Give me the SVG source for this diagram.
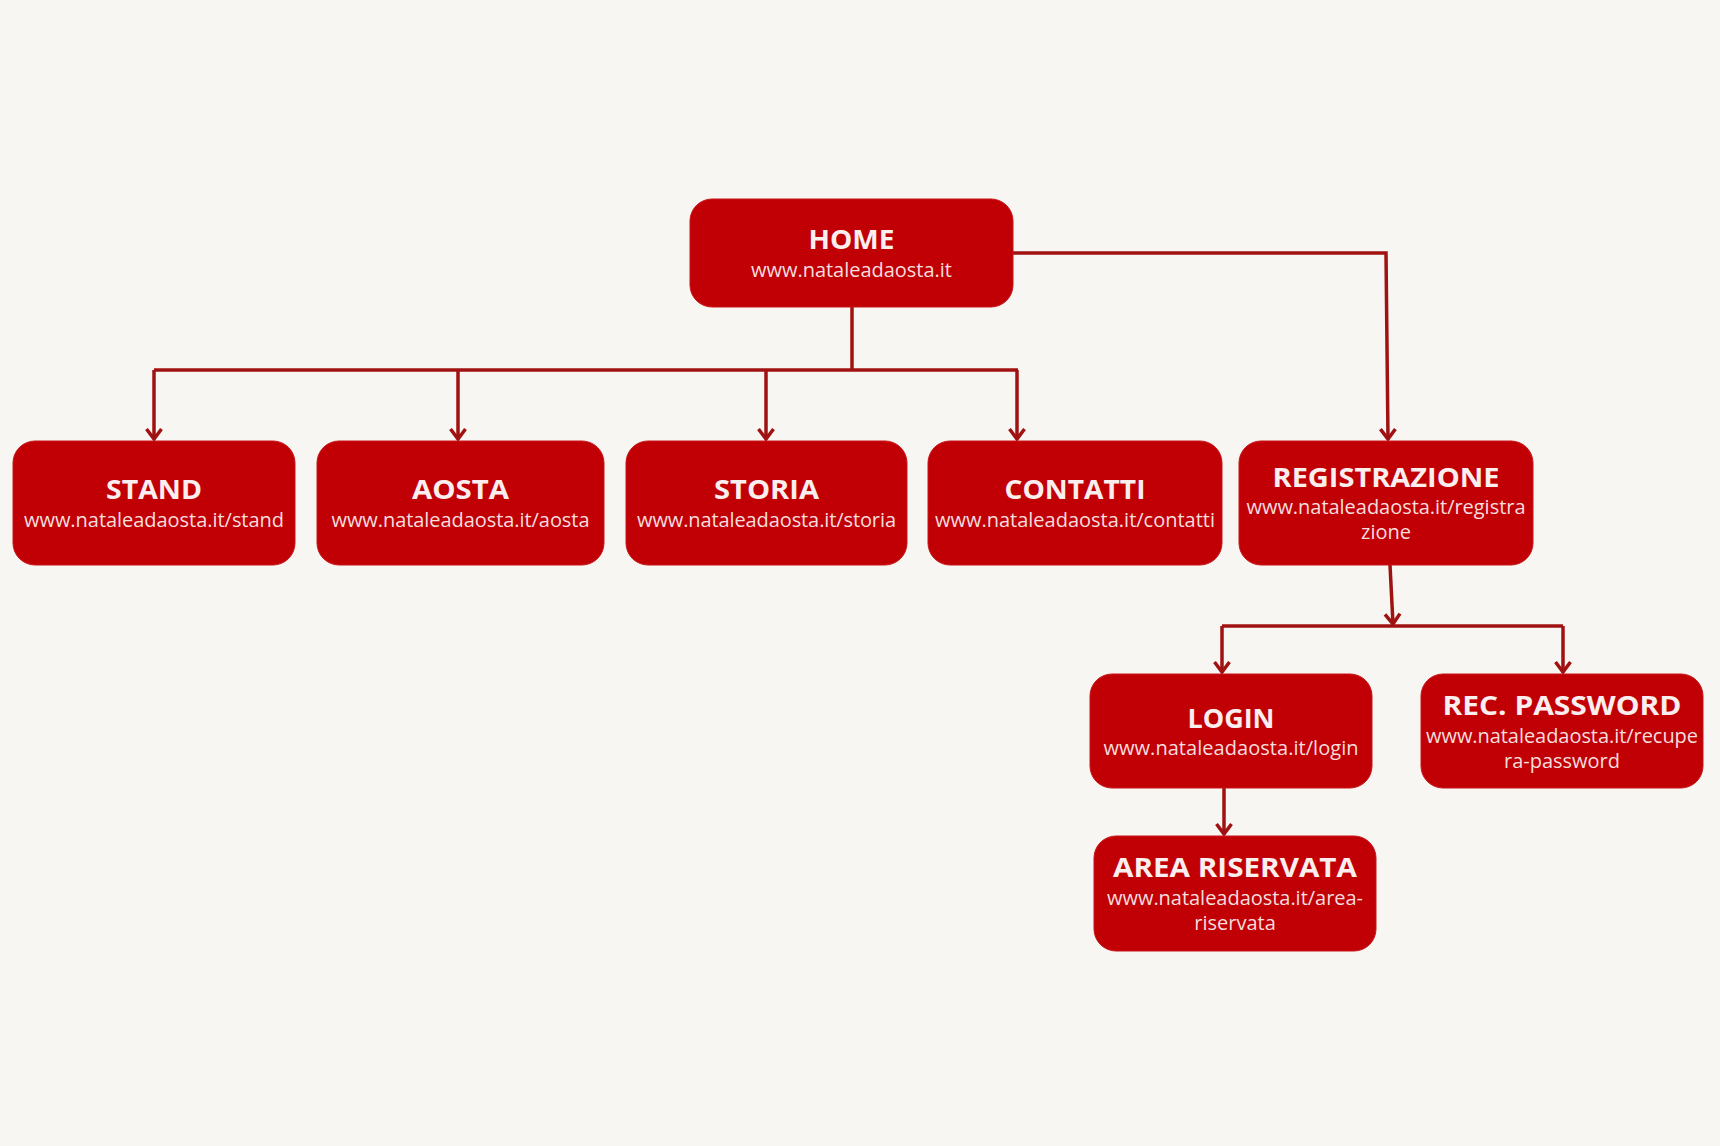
<svg xmlns="http://www.w3.org/2000/svg" width="1720" height="1146" viewBox="0 0 1720 1146">
<style>
.box{fill:#c10006;stroke:#c81418;stroke-width:1}
.h{font-family:"Open Sans","Liberation Sans",sans-serif;font-weight:700;font-size:26px;fill:#fbeeee;text-anchor:middle}
.u{font-family:"Open Sans","Liberation Sans",sans-serif;font-weight:400;font-size:20px;fill:#f6dede;text-anchor:middle}
.c{fill:none;stroke:#a01212;stroke-width:3.5}
</style>
<defs>
<marker id="arr" markerUnits="userSpaceOnUse" markerWidth="24" markerHeight="24" viewBox="-14 -12 16 24" refX="0" refY="0" orient="auto">
<path d="M-10,-7.5 L0,0 L-10,7.5" fill="none" stroke="#a01212" stroke-width="3.5" stroke-linejoin="miter"/>
</marker>
</defs>
<rect width="1720" height="1146" fill="#f7f6f2"/>
<g id="connectors">
<path class="c" d="M852,307 V370"/>
<path class="c" d="M154,370 H1018"/>
<path class="c" d="M154,370 V439" marker-end="url(#arr)"/>
<path class="c" d="M458,370 V439" marker-end="url(#arr)"/>
<path class="c" d="M766,370 V439" marker-end="url(#arr)"/>
<path class="c" d="M1017,370 V439" marker-end="url(#arr)"/>
<path class="c" d="M1013,253 H1386 L1388,439" marker-end="url(#arr)"/>
<path class="c" d="M1390,565 L1393,624" marker-end="url(#arr)"/>
<path class="c" d="M1222,626 H1563"/>
<path class="c" d="M1222,626 V672" marker-end="url(#arr)"/>
<path class="c" d="M1563,626 V672" marker-end="url(#arr)"/>
<path class="c" d="M1224,788 V834" marker-end="url(#arr)"/>
</g>
<g id="home">
<rect class="box" x="690" y="199" width="323" height="108" rx="22"/>
<text class="h" x="851.5" y="249" textLength="86" lengthAdjust="spacingAndGlyphs">HOME</text>
<text class="u" x="851.5" y="277" textLength="201" lengthAdjust="spacing">www.nataleadaosta.it</text>
</g>
<g id="stand">
<rect class="box" x="13" y="441" width="282" height="124" rx="22"/>
<text class="h" x="154" y="499" textLength="96" lengthAdjust="spacingAndGlyphs">STAND</text>
<text class="u" x="154" y="527" textLength="260" lengthAdjust="spacing">www.nataleadaosta.it/stand</text>
</g>
<g id="aosta">
<rect class="box" x="317" y="441" width="287" height="124" rx="22"/>
<text class="h" x="460.5" y="499" textLength="97" lengthAdjust="spacingAndGlyphs">AOSTA</text>
<text class="u" x="460.5" y="527" textLength="258" lengthAdjust="spacing">www.nataleadaosta.it/aosta</text>
</g>
<g id="storia">
<rect class="box" x="626" y="441" width="281" height="124" rx="22"/>
<text class="h" x="766.5" y="499" textLength="105" lengthAdjust="spacingAndGlyphs">STORIA</text>
<text class="u" x="766.5" y="527" textLength="259" lengthAdjust="spacing">www.nataleadaosta.it/storia</text>
</g>
<g id="contatti">
<rect class="box" x="928" y="441" width="294" height="124" rx="22"/>
<text class="h" x="1075" y="499" textLength="141" lengthAdjust="spacingAndGlyphs">CONTATTI</text>
<text class="u" x="1075" y="527" textLength="280" lengthAdjust="spacing">www.nataleadaosta.it/contatti</text>
</g>
<g id="registrazione">
<rect class="box" x="1239" y="441" width="294" height="124" rx="22"/>
<text class="h" x="1386" y="487" textLength="227" lengthAdjust="spacingAndGlyphs">REGISTRAZIONE</text>
<text class="u" x="1386" y="514" textLength="279" lengthAdjust="spacing">www.nataleadaosta.it/registra</text>
<text class="u" x="1386" y="539">zione</text>
</g>
<g id="login">
<rect class="box" x="1090" y="674" width="282" height="114" rx="22"/>
<text class="h" x="1231" y="728" textLength="87" lengthAdjust="spacingAndGlyphs">LOGIN</text>
<text class="u" x="1231" y="755" textLength="255" lengthAdjust="spacing">www.nataleadaosta.it/login</text>
</g>
<g id="rec-password">
<rect class="box" x="1421" y="674" width="282" height="114" rx="22"/>
<text class="h" x="1562" y="715" textLength="239" lengthAdjust="spacingAndGlyphs">REC. PASSWORD</text>
<text class="u" x="1562" y="743" textLength="272" lengthAdjust="spacing">www.nataleadaosta.it/recupe</text>
<text class="u" x="1562" y="768">ra-password</text>
</g>
<g id="area-riservata">
<rect class="box" x="1094" y="836" width="282" height="115" rx="22"/>
<text class="h" x="1235" y="877" textLength="244" lengthAdjust="spacingAndGlyphs">AREA RISERVATA</text>
<text class="u" x="1235" y="905" textLength="256" lengthAdjust="spacing">www.nataleadaosta.it/area-</text>
<text class="u" x="1235" y="930">riservata</text>
</g>
</svg>
